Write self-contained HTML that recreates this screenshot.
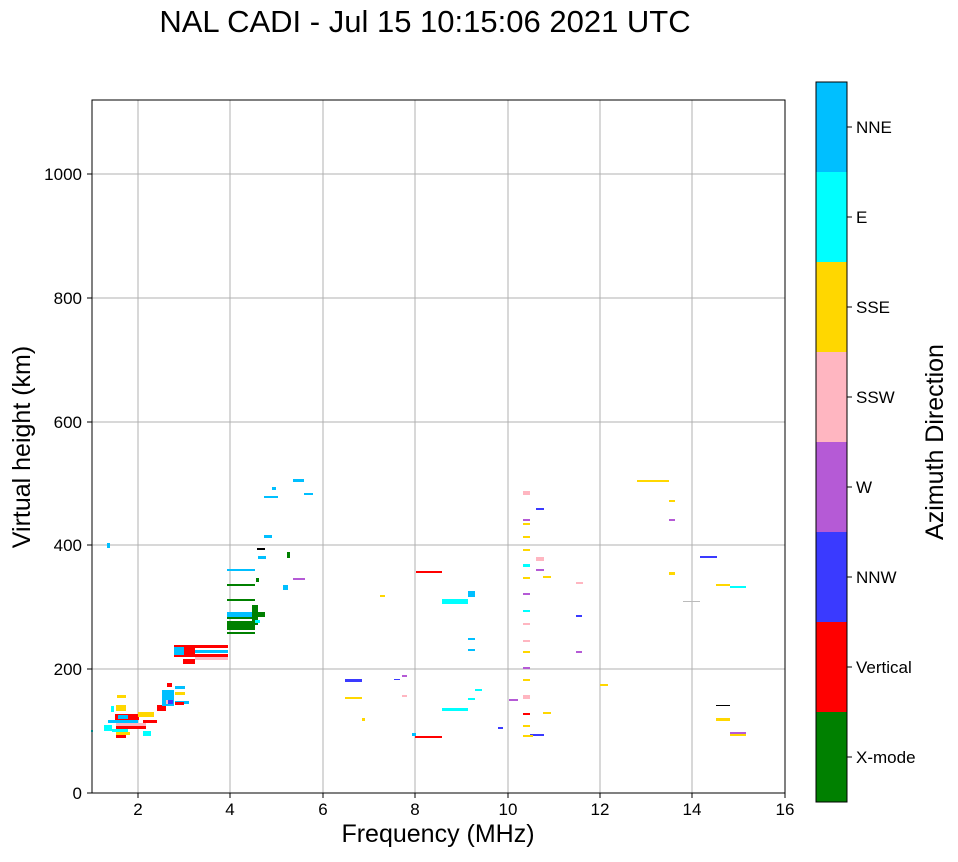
<!DOCTYPE html>
<html><head><meta charset="utf-8"><style>
body{margin:0;background:#fff;}
svg text{font-family:"Liberation Sans",sans-serif;}
</style></head><body>
<svg width="958" height="857" viewBox="0 0 958 857" xmlns="http://www.w3.org/2000/svg">
<text x="425" y="32" font-size="31" text-anchor="middle">NAL CADI - Jul 15 10:15:06 2021 UTC</text>
<g stroke="#b0b0b0" stroke-width="1">
<line x1="138" y1="100" x2="138" y2="793"/><line x1="230" y1="100" x2="230" y2="793"/>
<line x1="323" y1="100" x2="323" y2="793"/><line x1="415" y1="100" x2="415" y2="793"/>
<line x1="508" y1="100" x2="508" y2="793"/><line x1="600" y1="100" x2="600" y2="793"/>
<line x1="692" y1="100" x2="692" y2="793"/>
<line x1="92" y1="669" x2="785" y2="669"/><line x1="92" y1="545" x2="785" y2="545"/>
<line x1="92" y1="422" x2="785" y2="422"/><line x1="92" y1="298" x2="785" y2="298"/>
<line x1="92" y1="174" x2="785" y2="174"/>
</g>
<g>
<!-- green -->
<rect x="227" y="632" width="28" height="2" fill="#008000"/>
<rect x="227" y="621" width="28" height="9" fill="#008000"/>
<rect x="255" y="612" width="10" height="5" fill="#008000"/>
<rect x="227" y="599" width="28" height="2" fill="#008000"/>
<rect x="227" y="584" width="28" height="2" fill="#008000"/>
<rect x="227" y="569" width="28" height="2" fill="#00bfff"/>
<rect x="227" y="612" width="28" height="5" fill="#00bfff"/>
<rect x="227" y="617" width="28" height="2" fill="#008000"/>
<rect x="252" y="605" width="6" height="20" fill="#008000"/>
<rect x="255" y="620" width="5" height="3" fill="#00ffff"/>
<rect x="256" y="578" width="3" height="4" fill="#008000"/>
<rect x="257" y="548" width="8" height="2" fill="#000"/>
<!-- red block -->
<rect x="174" y="645" width="54" height="3" fill="#ff0000"/>
<rect x="174" y="650" width="54" height="3" fill="#00bfff"/>
<rect x="174" y="654" width="54" height="3" fill="#ff0000"/>
<rect x="183" y="647" width="12" height="10" fill="#ff0000"/>
<rect x="174" y="647" width="10" height="8" fill="#00bfff"/>
<rect x="195" y="657" width="33" height="3" fill="#ffb6c1"/>
<rect x="183" y="659" width="12" height="5" fill="#ff0000"/>
<!-- low clutter -->
<rect x="115" y="714" width="24" height="6" fill="#ff0000"/>
<rect x="116" y="705" width="10" height="6" fill="#ffd700"/>
<rect x="118" y="715" width="10" height="4" fill="#00bfff"/>
<rect x="108" y="720" width="30" height="3" fill="#00bfff"/>
<rect x="116" y="723" width="30" height="3" fill="#ffb6c1"/>
<rect x="116" y="726" width="30" height="3" fill="#ff0000"/>
<rect x="112" y="729" width="16" height="3" fill="#00ffff"/>
<rect x="116" y="732" width="14" height="3" fill="#ffd700"/>
<rect x="116" y="735" width="10" height="3" fill="#ff0000"/>
<rect x="104" y="725" width="8" height="6" fill="#00ffff"/>
<rect x="138" y="712" width="16" height="5" fill="#ffd700"/>
<rect x="143" y="720" width="14" height="3" fill="#ff0000"/>
<rect x="143" y="731" width="8" height="5" fill="#00ffff"/>
<rect x="117" y="695" width="9" height="3" fill="#ffd700"/>
<rect x="111" y="706" width="3" height="6" fill="#00ffff"/>
<rect x="157" y="705" width="9" height="6" fill="#ff0000"/>
<rect x="162" y="690" width="12" height="16" fill="#00bfff"/>
<rect x="166" y="700" width="5" height="4" fill="#ffb6c1"/>
<rect x="168" y="700" width="5" height="4" fill="#3a3aff"/>
<rect x="175" y="701" width="14" height="3" fill="#00bfff"/>
<rect x="175" y="692" width="10" height="3" fill="#ffd700"/>
<rect x="175" y="686" width="10" height="3" fill="#00bfff"/>
<rect x="167" y="683" width="5" height="4" fill="#ff0000"/>
<rect x="175" y="702" width="9" height="3" fill="#ff0000"/>
<rect x="91" y="730" width="2" height="2" fill="#00ffff"/>
<!-- mid/right -->
<rect x="416" y="571" width="26" height="2" fill="#ff0000"/>
<rect x="415" y="736" width="27" height="2" fill="#ff0000"/>
<rect x="442" y="599" width="26" height="5" fill="#00ffff"/>
<rect x="468" y="591" width="7" height="6" fill="#00bfff"/>
<rect x="442" y="708" width="26" height="3" fill="#00ffff"/>
<rect x="345" y="679" width="17" height="3" fill="#3a3aff"/>
<rect x="345" y="697" width="17" height="2" fill="#ffd700"/>
<rect x="637" y="480" width="32" height="2" fill="#ffd700"/>
<rect x="700" y="556" width="17" height="2" fill="#3a3aff"/>
<rect x="730" y="586" width="16" height="2" fill="#00ffff"/>
<rect x="716" y="584" width="14" height="2" fill="#ffd700"/>
<rect x="716" y="718" width="14" height="3" fill="#ffd700"/>
<rect x="730" y="732" width="16" height="2" fill="#b55ad6"/>
<rect x="730" y="734" width="16" height="2" fill="#ffd700"/>
<rect x="716" y="705" width="14" height="1" fill="#000"/>
<rect x="293" y="479" width="11" height="3" fill="#00bfff"/>
<rect x="304" y="493" width="9" height="2" fill="#00bfff"/>
<rect x="264" y="535" width="8" height="3" fill="#00bfff"/>
<rect x="258" y="556" width="8" height="3" fill="#00bfff"/>
<rect x="264" y="496" width="14" height="2" fill="#00bfff"/>
<rect x="272" y="487" width="4" height="3" fill="#00bfff"/>
<rect x="293" y="578" width="12" height="2" fill="#b55ad6"/>
<rect x="283" y="585" width="5" height="5" fill="#00bfff"/>
<rect x="287" y="552" width="3" height="6" fill="#008000"/>
<rect x="669" y="572" width="6" height="3" fill="#ffd700"/>
<rect x="669" y="500" width="6" height="2" fill="#ffd700"/>
<rect x="669" y="519" width="6" height="2" fill="#b55ad6"/>
<rect x="576" y="615" width="6" height="2" fill="#3a3aff"/>
<rect x="576" y="582" width="7" height="2" fill="#ffb6c1"/>
<rect x="576" y="651" width="6" height="2" fill="#b55ad6"/>
<rect x="536" y="508" width="8" height="2" fill="#3a3aff"/>
<rect x="536" y="557" width="8" height="4" fill="#ffb6c1"/>
<rect x="536" y="569" width="8" height="2" fill="#b55ad6"/>
<rect x="543" y="576" width="8" height="2" fill="#ffd700"/>
<rect x="543" y="712" width="8" height="2" fill="#ffd700"/>
<rect x="509" y="699" width="9" height="2" fill="#b55ad6"/>
<rect x="468" y="698" width="7" height="2" fill="#00ffff"/>
<rect x="475" y="689" width="7" height="2" fill="#00ffff"/>
<rect x="468" y="638" width="7" height="2" fill="#00bfff"/>
<rect x="468" y="649" width="7" height="2" fill="#00bfff"/>
<rect x="530" y="734" width="14" height="2" fill="#3a3aff"/>
<rect x="523" y="735" width="10" height="2" fill="#ffd700"/>
<rect x="523" y="491" width="7" height="4" fill="#ffb6c1"/>
<rect x="523" y="519" width="7" height="2" fill="#b55ad6"/>
<rect x="523" y="523" width="7" height="2" fill="#ffd700"/>
<rect x="523" y="536" width="7" height="2" fill="#ffd700"/>
<rect x="523" y="549" width="7" height="2" fill="#ffd700"/>
<rect x="523" y="564" width="7" height="3" fill="#00ffff"/>
<rect x="523" y="577" width="7" height="2" fill="#ffd700"/>
<rect x="523" y="593" width="7" height="2" fill="#b55ad6"/>
<rect x="523" y="610" width="7" height="2" fill="#00ffff"/>
<rect x="523" y="623" width="7" height="2" fill="#ffb6c1"/>
<rect x="523" y="640" width="7" height="2" fill="#ffb6c1"/>
<rect x="523" y="651" width="7" height="2" fill="#ffd700"/>
<rect x="523" y="667" width="7" height="2" fill="#b55ad6"/>
<rect x="523" y="679" width="7" height="2" fill="#ffd700"/>
<rect x="523" y="695" width="7" height="4" fill="#ffb6c1"/>
<rect x="523" y="713" width="7" height="2" fill="#ff0000"/>
<rect x="523" y="725" width="7" height="2" fill="#ffd700"/>
<rect x="600" y="684" width="8" height="2" fill="#ffd700"/>
<rect x="683" y="601" width="17" height="1" fill="#bbb"/>
<rect x="394" y="679" width="6" height="1" fill="#3a3aff"/>
<rect x="402" y="675" width="5" height="2" fill="#b55ad6"/>
<rect x="402" y="695" width="5" height="2" fill="#ffb6c1"/>
<rect x="380" y="595" width="5" height="2" fill="#ffd700"/>
<rect x="362" y="718" width="3" height="3" fill="#ffd700"/>
<rect x="498" y="727" width="5" height="2" fill="#3a3aff"/>
<rect x="412" y="733" width="4" height="3" fill="#00bfff"/>
<rect x="107" y="543" width="3" height="5" fill="#00bfff"/>
</g>
<rect x="92" y="100" width="693" height="693" fill="none" stroke="#000" stroke-width="1"/>
<g stroke="#000">
<line x1="138" y1="793" x2="138" y2="798"/><line x1="230" y1="793" x2="230" y2="798"/>
<line x1="323" y1="793" x2="323" y2="798"/><line x1="415" y1="793" x2="415" y2="798"/>
<line x1="508" y1="793" x2="508" y2="798"/><line x1="600" y1="793" x2="600" y2="798"/>
<line x1="692" y1="793" x2="692" y2="798"/><line x1="785" y1="793" x2="785" y2="798"/>
<line x1="87" y1="793" x2="92" y2="793"/><line x1="87" y1="669" x2="92" y2="669"/>
<line x1="87" y1="545" x2="92" y2="545"/><line x1="87" y1="422" x2="92" y2="422"/>
<line x1="87" y1="298" x2="92" y2="298"/><line x1="87" y1="174" x2="92" y2="174"/>
</g>
<g font-size="17" text-anchor="middle">
<text x="138" y="815">2</text><text x="230" y="815">4</text><text x="323" y="815">6</text>
<text x="415" y="815">8</text><text x="508" y="815">10</text><text x="600" y="815">12</text>
<text x="692" y="815">14</text><text x="785" y="815">16</text>
</g>
<g font-size="17" text-anchor="end">
<text x="82" y="799">0</text><text x="82" y="675">200</text><text x="82" y="551">400</text>
<text x="82" y="428">600</text><text x="82" y="304">800</text><text x="82" y="180">1000</text>
</g>
<text x="438" y="842" font-size="25" text-anchor="middle">Frequency (MHz)</text>
<text x="30" y="447" font-size="25" text-anchor="middle" transform="rotate(-90 30 447)">Virtual height (km)</text>
<rect x="816" y="82" width="31" height="90" fill="#00bfff"/>
<rect x="816" y="172" width="31" height="90" fill="#00ffff"/>
<rect x="816" y="262" width="31" height="90" fill="#ffd700"/>
<rect x="816" y="352" width="31" height="90" fill="#ffb6c1"/>
<rect x="816" y="442" width="31" height="90" fill="#b55ad6"/>
<rect x="816" y="532" width="31" height="90" fill="#3a3aff"/>
<rect x="816" y="622" width="31" height="90" fill="#ff0000"/>
<rect x="816" y="712" width="31" height="90" fill="#008000"/>
<rect x="816" y="82" width="31" height="720" fill="none" stroke="#000" stroke-width="1"/>
<g stroke="#000">
<line x1="847" y1="127" x2="852" y2="127"/><line x1="847" y1="217" x2="852" y2="217"/>
<line x1="847" y1="307" x2="852" y2="307"/><line x1="847" y1="397" x2="852" y2="397"/>
<line x1="847" y1="487" x2="852" y2="487"/><line x1="847" y1="577" x2="852" y2="577"/>
<line x1="847" y1="667" x2="852" y2="667"/><line x1="847" y1="757" x2="852" y2="757"/>
</g>
<g font-size="17">
<text x="856" y="133">NNE</text><text x="856" y="223">E</text><text x="856" y="313">SSE</text>
<text x="856" y="403">SSW</text><text x="856" y="493">W</text><text x="856" y="583">NNW</text>
<text x="856" y="673">Vertical</text><text x="856" y="763">X-mode</text>
</g>
<text x="943" y="442" font-size="25" text-anchor="middle" transform="rotate(-90 943 442)">Azimuth Direction</text>
</svg>
</body></html>
